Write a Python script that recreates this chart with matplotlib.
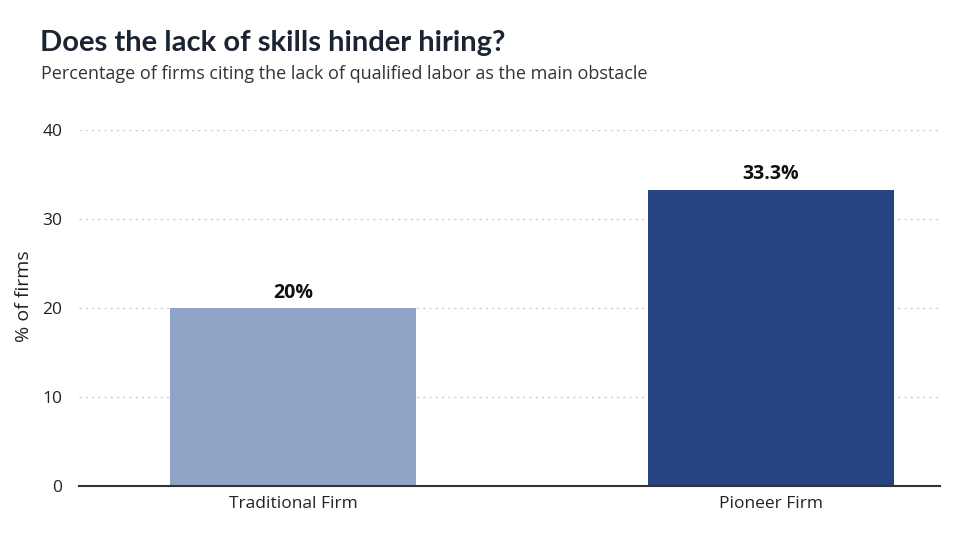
import matplotlib
matplotlib.use("Agg")
import matplotlib.pyplot as plt

categories = ["Traditional Firm", "Pioneer Firm"]
values = [20.0, 33.3]
labels = ["20%", "33.3%"]
yticks = [0, 10, 20, 30, 40]
colors = ["#90a4c8", "#264482"]

plt.rcParams['font.family'] = ['Open Sans', 'DejaVu Sans']

fig = plt.figure(figsize=(9.62, 5.42), dpi=100)
ax = fig.add_axes([79/962, 56/542, (940-79)/962, (486-130)/542])

x = list(range(len(categories)))
ax.bar(x, values, width=0.515, color=colors, zorder=2)
for xi, v, lab in zip(x, values, labels):
    ax.text(xi, v + 0.6, lab, ha='center', va='bottom', fontsize=14,
            fontweight='bold', color='#111111')

ax.set_xlim(-0.448, 1.354)
ax.set_ylim(0, 40)
ax.set_yticks(yticks)
ax.set_xticks(x)
ax.set_xticklabels(categories, fontsize=12.5, color='#222222')
ax.tick_params(axis='y', labelsize=12.5, labelcolor='#222222', length=0, pad=12)
ax.tick_params(axis='x', length=0, pad=7)
for t in yticks[1:]:
    ax.axhline(t, color='#cccccc', linestyle=(0, (1.5, 3)), linewidth=1, zorder=1)
for s in ['top', 'right', 'left']:
    ax.spines[s].set_visible(False)
ax.spines['bottom'].set_color('#333333')
ax.spines['bottom'].set_linewidth(1.5)
ax.spines['bottom'].set_zorder(3)
ax.set_ylabel('% of firms', fontsize=14, color='#222222')
ax.yaxis.set_label_coords((24 - 79) / 861, (486 - 296) / 356)
ax.yaxis.label.set_va('center')

fig.text(40/962, 1 - 51/542, 'Does the lack of skills hinder hiring?', fontsize=21,
         fontweight='bold', color='#1a2433', family=['Lato', 'DejaVu Sans'], va='baseline')
fig.text(41/962, 1 - 79/542, 'Percentage of firms citing the lack of qualified labor as the main obstacle',
         fontsize=13, color='#333333', va='baseline')

fig.savefig('out.png', dpi=100, facecolor='white')
